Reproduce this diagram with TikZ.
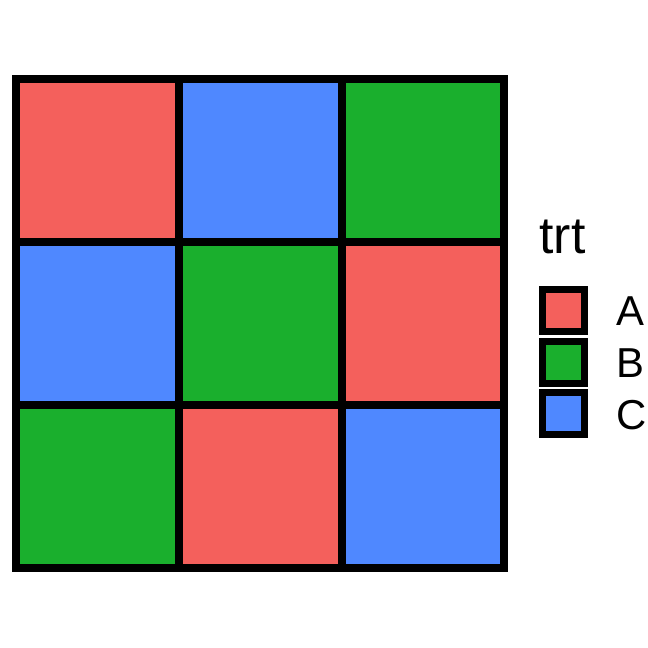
\documentclass[tikz,border=0pt]{standalone}
\usepackage{fontspec}
\setmainfont{Liberation Sans}
\definecolor{cA}{HTML}{F4605C}
\definecolor{cB}{HTML}{1AAF2D}
\definecolor{cC}{HTML}{4F88FF}
\begin{document}
\begin{tikzpicture}[x=1bp,y=-1bp,
  tile/.style={draw=black,line width=8bp,minimum width=162.8bp,minimum height=163bp,inner sep=0pt,outer sep=0pt},
  keybox/.style={draw=black,line width=7bp,minimum width=42bp,minimum height=42bp,inner sep=0pt,outer sep=0pt},
  keylab/.style={anchor=west,inner sep=0pt,font=\fontsize{42}{48}\selectfont},
  title/.style={anchor=base west,inner sep=0pt,font=\fontsize{52}{60}\selectfont}]
\useasboundingbox (0,0) rectangle (648,648);
% row 1
\node[tile,fill=cA] (t11) at (97.4,160.5) {};
\node[tile,fill=cC] (t12) at (260.2,160.5) {};
\node[tile,fill=cB] (t13) at (423.0,160.5) {};
% row 2
\node[tile,fill=cC] (t21) at (97.4,323.5) {};
\node[tile,fill=cB] (t22) at (260.2,323.5) {};
\node[tile,fill=cA] (t23) at (423.0,323.5) {};
% row 3
\node[tile,fill=cB] (t31) at (97.4,486.5) {};
\node[tile,fill=cA] (t32) at (260.2,486.5) {};
\node[tile,fill=cC] (t33) at (423.0,486.5) {};
% legend
\node[title] (ttl) at (539.3,253.3) {trt};
\node[keybox,fill=cA] (kA) at (563.8,310.5) {};
\node[keybox,fill=cB] (kB) at (563.8,362.0) {};
\node[keybox,fill=cC] (kC) at (563.8,413.8) {};
\node[keylab] (lA) at (616.5,311.5) {A};
\node[keylab] (lB) at (616.5,363.0) {B};
\node[keylab] (lC) at (616.5,414.8) {C};
\end{tikzpicture}
\end{document}
